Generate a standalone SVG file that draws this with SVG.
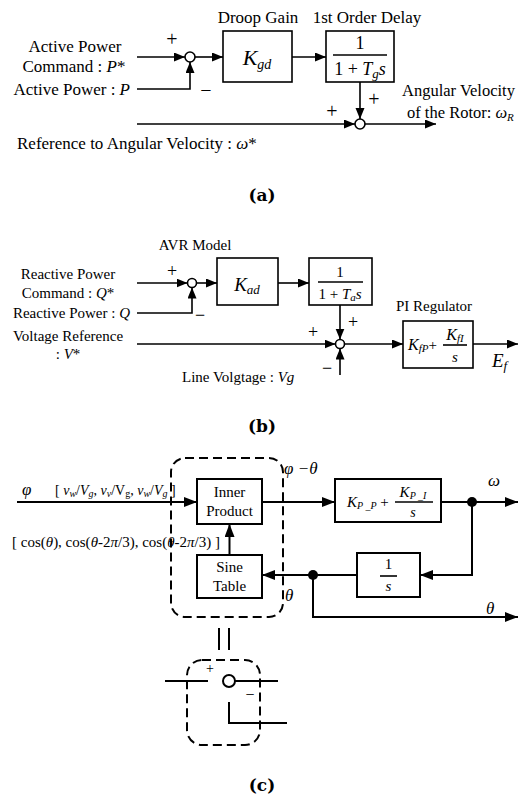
<svg xmlns="http://www.w3.org/2000/svg" width="525" height="801" viewBox="0 0 525 801">
<style>
text{font-family:"Liberation Serif","Times New Roman",serif;fill:#000}
.t17{font-size:17px}.t15{font-size:15px}.t14{font-size:14px}
.i{font-style:italic}
.cap{font-family:"DejaVu Serif",serif;font-weight:bold;font-size:17px}
.ln{stroke:#000;stroke-width:1.6;fill:none}
.lnc{stroke:#000;stroke-width:2;fill:none}
.box{stroke:#000;stroke-width:1.6;fill:#fff}
.boxc{stroke:#000;stroke-width:2;fill:#fff}
.sum{stroke:#000;stroke-width:1.6;fill:#fff}
.dash{stroke:#000;stroke-width:2;fill:none;stroke-dasharray:9 5}
</style>
<defs>
<marker id="ar" markerUnits="userSpaceOnUse" markerWidth="12" markerHeight="10" refX="11" refY="4.5" orient="auto"><path d="M0,0 L11,4.5 L0,9 Z" fill="#000"/></marker>
<marker id="arc" markerUnits="userSpaceOnUse" markerWidth="14" markerHeight="12" refX="13" refY="5" orient="auto"><path d="M0,0 L13,5 L0,10 Z" fill="#000"/></marker>
</defs>

<!-- ===== Panel (a) ===== -->
<g id="a-labels">
<text class="t17" x="75" y="52" text-anchor="middle">Active Power</text>
<text class="t17" x="74" y="72" text-anchor="middle">Command : <tspan class="i">P</tspan>*</text>
<text class="t17" x="130" y="95" text-anchor="end">Active Power : <tspan class="i">P</tspan></text>
<text class="t17" x="17" y="149">Reference to Angular Velocity : <tspan class="i">ω</tspan>*</text>
<text class="t17" x="402" y="96" style="font-size:16.5px">Angular Velocity</text>
<text class="t17" x="407" y="118" style="font-size:16.5px">of the Rotor: <tspan class="i">ω</tspan><tspan class="i" font-size="11" dy="3">R</tspan></text>
<text class="cap" x="262" y="201" text-anchor="middle">(a)</text>
</g>
<g id="a-sum1"><circle class="sum" cx="190" cy="57" r="5"/>
<text x="172" y="46" font-size="20" text-anchor="middle">+</text>
<text x="206" y="97" font-size="20" text-anchor="middle">−</text></g>
<g id="a-kgd"><text class="t17" x="258" y="23" text-anchor="middle">Droop Gain</text>
<rect class="box" x="223" y="31" width="69" height="51"/>
<text x="257" y="65" text-anchor="middle" class="i"><tspan font-size="22">K</tspan><tspan font-size="14" dy="4">gd</tspan></text></g>
<g id="a-delay"><text class="t17" x="367" y="23" text-anchor="middle">1st Order Delay</text>
<rect class="box" x="326" y="31" width="68" height="51"/>
<text x="360" y="49" font-size="18" text-anchor="middle">1</text>
<line class="ln" x1="333" y1="55" x2="387" y2="55" stroke-width="1.2"/>
<text x="360" y="75" font-size="18" text-anchor="middle">1 + <tspan class="i">T</tspan><tspan class="i" font-size="13" dy="3">g</tspan><tspan class="i" dy="-3">s</tspan></text></g>
<g id="a-sum2"><circle class="sum" cx="360" cy="124" r="5"/>
<text x="374" y="106" font-size="20" text-anchor="middle">+</text>
<text x="332" y="118" font-size="20" text-anchor="middle">+</text></g>
<g id="a-connectors">
<line class="ln" x1="137" y1="57" x2="185" y2="57" marker-end="url(#ar)"/>
<polyline class="ln" points="137,89 190,89 190,62" marker-end="url(#ar)"/>
<line class="ln" x1="195" y1="57" x2="223" y2="57" marker-end="url(#ar)"/>
<line class="ln" x1="292" y1="57" x2="326" y2="57" marker-end="url(#ar)"/>
<line class="ln" x1="360" y1="82" x2="360" y2="119" marker-end="url(#ar)"/>
<line class="ln" x1="137" y1="124" x2="355" y2="124" marker-end="url(#ar)"/>
<line class="ln" x1="365" y1="124" x2="436" y2="124" marker-end="url(#ar)"/>
</g>

<!-- ===== Panel (b) ===== -->
<g id="b-labels">
<text class="t15" x="195" y="250" text-anchor="middle">AVR Model</text>
<text class="t15" x="68" y="279" text-anchor="middle">Reactive Power</text>
<text class="t15" x="68" y="298" text-anchor="middle">Command : <tspan class="i">Q</tspan>*</text>
<text class="t15" x="130" y="318" text-anchor="end">Reactive Power : <tspan class="i">Q</tspan></text>
<text class="t15" x="68" y="341" text-anchor="middle">Voltage Reference</text>
<text class="t15" x="68" y="359" text-anchor="middle">: <tspan class="i">V</tspan>*</text>
<text class="t15" x="182" y="382">Line Volgtage : <tspan class="i">Vg</tspan></text>
<text class="t15" x="434" y="311" text-anchor="middle">PI Regulator</text>
<text x="492" y="367" class="i"><tspan font-size="19">E</tspan><tspan font-size="13" dy="3">f</tspan></text>
<text class="cap" x="262" y="432" text-anchor="middle">(b)</text>
</g>
<g id="b-sum1"><circle class="sum" cx="192" cy="283" r="4.5"/>
<text x="172" y="277" font-size="18" text-anchor="middle">+</text>
<text x="200" y="321" font-size="18" text-anchor="middle">−</text></g>
<g id="b-kad"><rect class="box" x="217" y="258" width="61" height="47"/>
<text x="247" y="291" text-anchor="middle" class="i"><tspan font-size="19">K</tspan><tspan font-size="13" dy="3">ad</tspan></text></g>
<g id="b-delay"><rect class="box" x="309" y="258" width="63" height="47"/>
<text x="340" y="277" font-size="15" text-anchor="middle">1</text>
<line class="ln" x1="318" y1="282" x2="363" y2="282" stroke-width="1.1"/>
<text x="340" y="299" font-size="15" text-anchor="middle">1 + <tspan class="i">T</tspan><tspan class="i" font-size="11" dy="2">a</tspan><tspan class="i" dy="-2">s</tspan></text></g>
<g id="b-sum2"><circle class="sum" cx="340" cy="344" r="4.5"/>
<text x="353" y="328" font-size="18" text-anchor="middle">+</text>
<text x="313" y="338" font-size="18" text-anchor="middle">+</text>
<text x="327" y="374" font-size="18" text-anchor="middle">−</text></g>
<g id="b-pi"><rect class="box" x="403" y="321" width="70" height="47"/>
<text x="408" y="350" class="i"><tspan font-size="16">K</tspan><tspan font-size="11" dy="2">fP</tspan><tspan font-style="normal" font-size="15" dy="-2">+</tspan></text>
<text x="455" y="340" text-anchor="middle" class="i"><tspan font-size="16">K</tspan><tspan font-size="11" dy="2">fI</tspan></text>
<line class="ln" x1="443" y1="345" x2="467" y2="345" stroke-width="1.1"/>
<text x="455" y="362" font-size="15" text-anchor="middle" class="i">s</text></g>
<g id="b-connectors">
<line class="ln" x1="137" y1="283" x2="187.5" y2="283" marker-end="url(#ar)"/>
<polyline class="ln" points="137,313 192,313 192,287.5" marker-end="url(#ar)"/>
<line class="ln" x1="196.5" y1="283" x2="217" y2="283" marker-end="url(#ar)"/>
<line class="ln" x1="278" y1="283" x2="309" y2="283" marker-end="url(#ar)"/>
<line class="ln" x1="340" y1="305" x2="340" y2="339.5" marker-end="url(#ar)"/>
<line class="ln" x1="137" y1="344" x2="335.5" y2="344" marker-end="url(#ar)"/>
<line class="ln" x1="340" y1="375" x2="340" y2="348.5" marker-end="url(#ar)"/>
<line class="ln" x1="344.5" y1="344" x2="403" y2="344" marker-end="url(#ar)"/>
<line class="ln" x1="473" y1="344" x2="518" y2="344" marker-end="url(#ar)"/>
</g>

<!-- ===== Panel (c) ===== -->
<g id="c-labels">
<text x="22" y="495" font-size="17" class="i">φ</text>
<text x="55" y="495" class="t14">[ <tspan class="i">v</tspan><tspan class="i" font-size="10" dy="2">w</tspan><tspan dy="-2">/</tspan><tspan class="i">V</tspan><tspan class="i" font-size="10" dy="2">g</tspan><tspan dy="-2">, </tspan><tspan class="i">v</tspan><tspan class="i" font-size="10" dy="2">v</tspan><tspan dy="-2">/V</tspan><tspan font-size="10" dy="2">g</tspan><tspan dy="-2">, </tspan><tspan class="i">v</tspan><tspan class="i" font-size="10" dy="2">w</tspan><tspan dy="-2">/</tspan><tspan class="i">V</tspan><tspan class="i" font-size="10" dy="2">g</tspan><tspan dy="-2"> ]</tspan></text>
<text x="12" y="547" class="t15">[ cos(<tspan class="i">θ</tspan>), cos(<tspan class="i">θ</tspan>-2<tspan class="i">π</tspan>/3), cos(<tspan class="i">θ</tspan>-2<tspan class="i">π</tspan>/3) ]</text>
<text x="284" y="474" font-size="17" class="i">φ −θ</text>
<text x="488" y="486" font-size="17" class="i">ω</text>
<text x="285" y="601" font-size="17" class="i">θ</text>
<text x="486" y="614" font-size="17" class="i">θ</text>
<text class="cap" x="262" y="791" text-anchor="middle">(c)</text>
</g>
<g id="c-dashed"><rect class="dash" x="171" y="458" width="112" height="159" rx="14"/></g>
<g id="c-inner"><rect class="boxc" x="197" y="479" width="65" height="45"/>
<text x="229.5" y="497" class="t15" text-anchor="middle">Inner</text>
<text x="229.5" y="516" class="t15" text-anchor="middle">Product</text></g>
<g id="c-sine"><rect class="boxc" x="197" y="555" width="65" height="43"/>
<text x="229.5" y="572" class="t15" text-anchor="middle">Sine</text>
<text x="229.5" y="591" class="t15" text-anchor="middle">Table</text></g>
<g id="c-pi"><rect class="boxc" x="335" y="479" width="106" height="43"/>
<text x="347" y="507" class="i"><tspan font-size="15">K</tspan><tspan font-size="10" dy="2">P _P</tspan><tspan font-style="normal" font-size="15" dy="-2"> +</tspan></text>
<text x="413" y="497" text-anchor="middle" class="i"><tspan font-size="15">K</tspan><tspan font-size="10" dy="2">P _I</tspan></text>
<line class="ln" x1="395" y1="502" x2="433" y2="502" stroke-width="1.1"/>
<text x="413" y="517" font-size="14" text-anchor="middle" class="i">s</text></g>
<g id="c-int"><rect class="boxc" x="357" y="553" width="63" height="44"/>
<text x="388.5" y="569" font-size="15" text-anchor="middle">1</text>
<line class="ln" x1="380" y1="576" x2="397" y2="576" stroke-width="1.1"/>
<text x="388.5" y="591" font-size="15" text-anchor="middle" class="i">s</text></g>
<g id="c-connectors">
<line class="lnc" x1="17" y1="502" x2="197" y2="502" marker-end="url(#arc)"/>
<line class="lnc" x1="262" y1="502" x2="335" y2="502" marker-end="url(#arc)"/>
<line class="lnc" x1="441" y1="502" x2="518" y2="502" marker-end="url(#arc)"/>
<polyline class="lnc" points="472,502 472,575 420,575" marker-end="url(#arc)"/>
<line class="lnc" x1="357" y1="575" x2="262" y2="575" marker-end="url(#arc)"/>
<polyline class="lnc" points="313,575 313,617 518,617" marker-end="url(#arc)"/>
<line class="lnc" x1="229.5" y1="555" x2="229.5" y2="524" marker-end="url(#arc)"/>
<circle cx="472" cy="502" r="5" fill="#000"/>
<circle cx="313" cy="575" r="5" fill="#000"/>
</g>
<g id="c-link"><line class="lnc" x1="219" y1="628" x2="219" y2="650"/><line class="lnc" x1="229" y1="628" x2="229" y2="650"/></g>
<g id="c-inset">
<rect class="dash" x="187" y="660" width="73" height="85" rx="15"/>
<line class="lnc" x1="165" y1="681" x2="208" y2="681"/>
<circle cx="229" cy="681" r="6" fill="#fff" stroke="#000" stroke-width="2"/>
<line class="lnc" x1="235" y1="681" x2="278" y2="681"/>
<polyline class="lnc" points="229,702 229,723 287,723"/>
<text x="210" y="673" font-size="14" font-family="Liberation Sans,sans-serif" text-anchor="middle">+</text>
<text x="250" y="700" font-size="16" font-family="Liberation Sans,sans-serif" text-anchor="middle">−</text>
</g>
</svg>
